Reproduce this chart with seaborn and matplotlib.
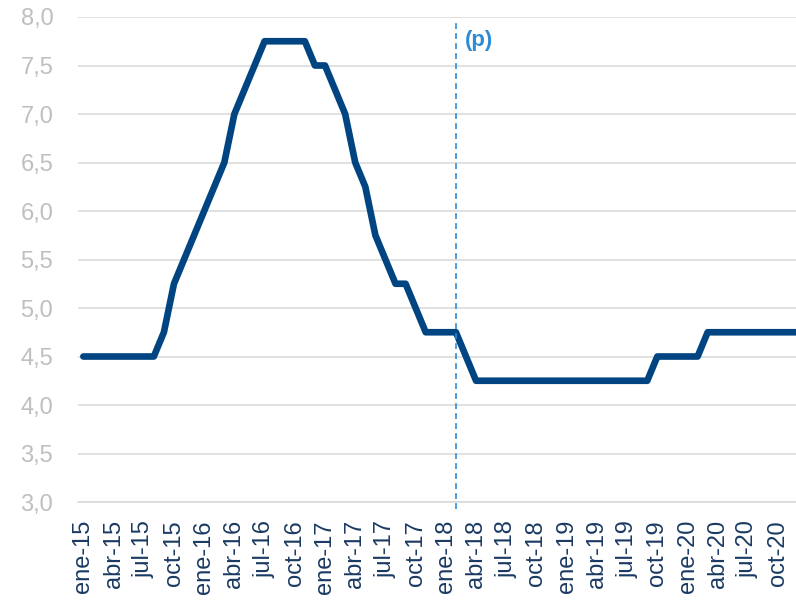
import numpy as np
import pandas as pd
import matplotlib
matplotlib.use("Agg")
import matplotlib.pyplot as plt
import seaborn as sns

# ---- data ----
months_es = ["ene", "feb", "mar", "abr", "may", "jun", "jul", "ago", "sep", "oct", "nov", "dic"]
years = ["15", "16", "17", "18", "19", "20"]
periods = [f"{m}-{y}" for y in years for m in months_es]

rate = [4.5, 4.5, 4.5, 4.5, 4.5, 4.5, 4.5, 4.5, 4.75, 5.25, 5.5, 5.75,          # 2015
        6.0, 6.25, 6.5, 7.0, 7.25, 7.5, 7.75, 7.75, 7.75, 7.75, 7.75, 7.5,      # 2016
        7.5, 7.25, 7.0, 6.5, 6.25, 5.75, 5.5, 5.25, 5.25, 5.0, 4.75, 4.75,      # 2017
        4.75, 4.75, 4.5, 4.25, 4.25, 4.25, 4.25, 4.25, 4.25, 4.25, 4.25, 4.25,  # 2018
        4.25, 4.25, 4.25, 4.25, 4.25, 4.25, 4.25, 4.25, 4.25, 4.5, 4.5, 4.5,    # 2019
        4.5, 4.5, 4.75, 4.75, 4.75, 4.75, 4.75, 4.75, 4.75, 4.75, 4.75, 4.75]   # 2020

projection_start = "feb-18"
projection_label = "(p)"
y_ticks = [3.0, 3.5, 4.0, 4.5, 5.0, 5.5, 6.0, 6.5, 7.0, 7.5, 8.0]

df = pd.DataFrame({"idx": np.arange(len(periods)), "periodo": periods, "tasa": rate})

# ---- figure ----
sns.set_style("white")
plt.rcParams["font.family"] = ["Liberation Sans", "DejaVu Sans"]

W, H = 796, 601
fig = plt.figure(figsize=(W / 100, H / 100), dpi=100)
left_px, right_px, top_px, bottom_px = 78.3, 796, 17, 502
ax = fig.add_axes([left_px / W, 1 - bottom_px / H,
                   (right_px - left_px) / W, (bottom_px - top_px) / H])

px_per_month = 10.07

# gridlines
for yv in y_ticks:
    ax.axhline(yv, color="#d9d9d9", lw=1.1, zorder=0)

sns.lineplot(data=df, x="idx", y="tasa", ax=ax, color="#004582", lw=4.8,
             solid_capstyle="round", solid_joinstyle="round", zorder=3)

# projection line
px = periods.index(projection_start)
ax.axvline(px, ymin=-0.014, ymax=0.99, color="#2e8bd4", lw=1.2,
           dashes=(3.5, 2.5), clip_on=False, zorder=4)
ax.text(px + 0.9, 7.76, projection_label, color="#2e8bd4", fontsize=16,
        fontweight="bold", ha="left", va="center")

# axes styling
for s in ["top", "right", "left"]:
    ax.spines[s].set_visible(False)
ax.spines["bottom"].set_color("#d9d9d9")
ax.spines["bottom"].set_linewidth(1.1)

ax.set_yticks(y_ticks)
ax.set_yticklabels([f"{v:.1f}".replace(".", ",") for v in y_ticks])
ax.tick_params(axis="y", length=0, pad=18, labelsize=17, labelcolor="#bfbfbf")

major = list(range(0, len(periods), 3))
ax.set_xticks(major)
ax.set_xticklabels([periods[i] for i in major], rotation=90)
ax.set_xticks([i - 0.5 for i in major], minor=True)
ax.tick_params(axis="x", which="major", length=0, pad=13, labelsize=17,
               labelcolor="#1b3a63")
ax.tick_params(axis="x", which="minor", length=6, width=1.1, color="#d9d9d9",
               direction="out")
ax.set_xlabel("")
ax.set_ylabel("")

ax.set_xlim(-0.5, -0.5 + (right_px - left_px) / px_per_month)
ax.set_ylim(3.0, 8.0)

fig.savefig("out.png", dpi=100)
